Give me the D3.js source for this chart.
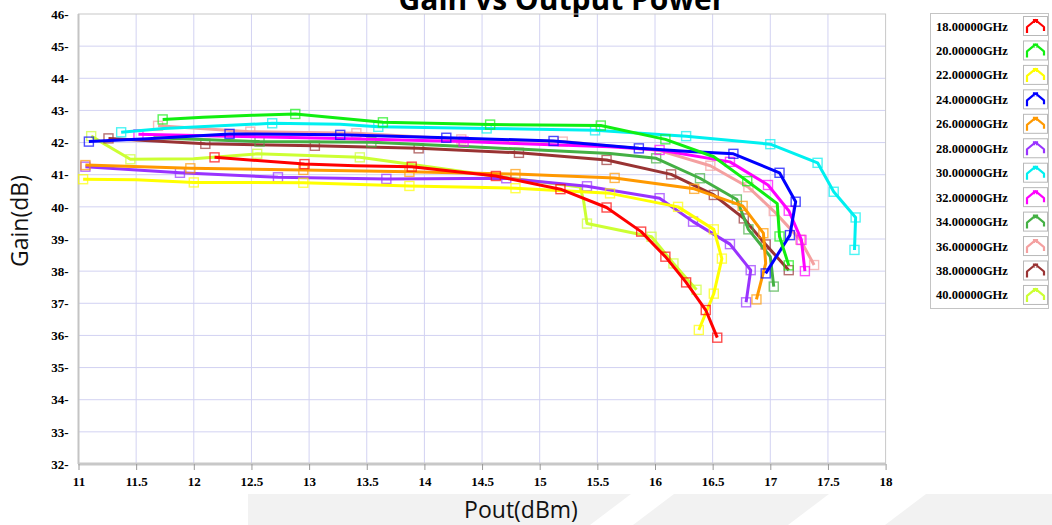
<!DOCTYPE html>
<html>
<head>
<meta charset="utf-8">
<script src="https://cdn.jsdelivr.net/npm/d3@7"></script>
<style>
  html, body { margin: 0; padding: 0; background: #fff; }
  svg { display: block; }
</style>
</head>
<body>
<svg id="chart" width="1052" height="525"></svg>
<script>
// ---------- data ----------
const seriesNames = ["18.00000GHz","20.00000GHz","22.00000GHz","24.00000GHz","26.00000GHz","28.00000GHz",
                     "30.00000GHz","32.00000GHz","34.00000GHz","36.00000GHz","38.00000GHz","40.00000GHz"];
const seriesColors = ["#ff0000","#11ee11","#ffff00","#0000ff","#ff9900","#9933ff",
                      "#00f0f0","#ff00ff","#44b044","#f4a0a0","#993333","#ccff33"];
const xTicks = [11, 11.5, 12, 12.5, 13, 13.5, 14, 14.5, 15, 15.5, 16, 16.5, 17, 17.5, 18];
const yTicks = [32, 33, 34, 35, 36, 37, 38, 39, 40, 41, 42, 43, 44, 45, 46];

// [Pout, Gain, hasMarker]
const s18 = [[12.18,41.54,1],[12.96,41.33,1],[13.4,41.28,0],[13.89,41.25,1],[14.62,40.96,1],[15.18,40.55,1],
             [15.58,39.98,1],[15.88,39.23,1],[16.09,38.45,1],[16.27,37.65,1],[16.44,36.79,1],[16.54,35.93,1]];
const s20 = [[11.73,42.72,1],[12.08,42.79,0],[12.51,42.85,0],[12.88,42.89,1],[13.64,42.63,1],[14.57,42.56,1],
             [15.53,42.53,1],[16.09,42.1,1],[16.51,41.56,0],[16.80,40.8,1],[17.06,40.1,0],[17.08,39.08,1],[17.16,38.18,1]];
const s22 = [[11.04,40.86,1],[11.5,40.84,0],[12.0,40.76,1],[12.95,40.75,1],[13.87,40.65,1],[14.79,40.58,1],
             [15.61,40.42,1],[16.2,40.0,1],[16.51,39.3,1],[16.58,38.39,1],[16.51,37.3,1],[16.38,36.17,1]];
const s24 = [[11.09,42.03,1],[11.6,42.12,0],[12.31,42.27,1],[13.27,42.24,1],[14.19,42.15,1],[15.12,42.05,1],
             [15.86,41.82,1],[16.3,41.72,0],[16.68,41.65,1],[17.08,41.06,1],[17.22,40.16,1],[17.17,39.12,1],[16.96,37.93,1]];
const s26 = [[11.06,41.30,1],[11.97,41.2,1],[12.95,41.15,1],[13.87,41.09,1],[14.79,41.02,1],[15.65,40.9,1],
             [16.34,40.56,1],[16.76,40.03,1],[16.94,39.18,1],[16.96,38.24,0],[16.88,37.12,1]];
const s28 = [[11.06,41.25,1],[11.88,41.06,1],[12.73,40.92,1],[13.67,40.87,1],[14.71,40.89,1],[15.41,40.64,1],
             [16.04,40.27,1],[16.33,39.54,1],[16.65,38.84,1],[16.83,38.03,1],[16.79,37.03,1]];
const s30 = [[11.37,42.32,1],[11.74,42.44,0],[12.68,42.6,1],[13.27,42.57,0],[13.6,42.49,1],[14.54,42.44,1],
             [15.48,42.38,1],[16.27,42.2,1],[17.0,41.95,1],[17.41,41.37,1],[17.55,40.47,1],[17.74,39.67,1],[17.73,38.66,1]];
const s32 = [[11.52,42.26,1],[12.31,42.2,0],[13.27,42.13,0],[14.34,42.03,1],[15.61,41.87,0],[16.04,41.77,1],
             [16.65,41.4,1],[16.98,40.68,1],[17.16,39.88,1],[17.27,38.97,1],[17.30,38.0,1]];
const s34 = [[11.65,42.15,0],[12.57,42.03,1],[13.54,42.01,1],[14.4,41.87,0],[15.61,41.66,0],[16.01,41.51,1],
             [16.39,40.89,1],[16.71,40.23,1],[16.81,39.3,1],[17.0,38.45,0],[17.03,37.52,1]];
const s36 = [[11.69,42.52,1],[12.49,42.34,1],[13.41,42.29,1],[14.32,42.1,1],[15.2,42.03,1],[16.04,41.75,0],
             [16.48,41.28,1],[16.81,40.61,1],[17.03,39.87,1],[17.26,38.98,1],[17.38,38.19,1]];
const s38 = [[11.26,42.13,1],[12.1,41.96,1],[13.05,41.9,1],[13.95,41.82,1],[14.82,41.68,1],[15.58,41.46,1],
             [16.14,41.01,1],[16.51,40.37,1],[16.77,39.64,1],[16.96,38.83,1],[17.16,38.03,1]];
const s40 = [[11.11,42.2,1],[11.45,41.48,1],[12.0,41.5,0],[12.55,41.65,1],[13.44,41.54,1],[14.1,41.22,0],
             [14.62,40.95,0],[15.35,40.62,0],[15.38,40.21,0],[15.41,39.48,1],[15.97,39.07,1],[16.16,38.24,1],[16.36,37.42,1]];
const seriesData = [s18, s20, s22, s24, s26, s28, s30, s32, s34, s36, s38, s40];

// ---------- layout ----------
const svg = d3.select("#chart");
const plot = { left: 78.5, right: 885.6, top: 14, bottom: 464 };
const x = d3.scaleLinear().domain([11, 18]).range([plot.left, plot.right]);
const y = d3.scaleLinear().domain([32, 46]).range([plot.bottom, plot.top]);

// watermark shapes in the background
const wm = [
  [[248,494],[631,494],[590,525],[248,525]],
  [[674,494],[829,494],[788,525],[633,525]],
  [[926,494],[1052,494],[1052,525],[885,525]]
];
svg.append("g").selectAll("polygon").data(wm).join("polygon")
  .attr("points", d => d.map(p => p.join(",")).join(" "))
  .attr("fill", "#f2f2f2");

// title
svg.append("text")
  .attr("x", 562).attr("y", 10)
  .attr("text-anchor", "middle")
  .attr("font-family", "'Open Sans', sans-serif")
  .attr("font-weight", "bold")
  .attr("font-size", 30)
  .attr("fill", "#000")
  .text("Gain vs Output Power");

// grid
const grid = svg.append("g");
grid.selectAll("line.vx").data(xTicks.slice(1, -1)).join("line")
  .attr("x1", d => x(d)).attr("x2", d => x(d))
  .attr("y1", plot.top).attr("y2", plot.bottom)
  .attr("stroke", "#d2d2f2").attr("stroke-width", 1);
grid.selectAll("line.hy").data(yTicks.slice(1, -1)).join("line")
  .attr("x1", plot.left).attr("x2", plot.right)
  .attr("y1", d => y(d)).attr("y2", d => y(d))
  .attr("stroke", "#d2d2f2").attr("stroke-width", 1);

// frame
svg.append("rect")
  .attr("x", plot.left).attr("y", plot.top)
  .attr("width", plot.right - plot.left).attr("height", plot.bottom - plot.top)
  .attr("fill", "none").attr("stroke", "#c8c8c8").attr("stroke-width", 1);
svg.append("line").attr("x1", plot.left).attr("x2", plot.left)
  .attr("y1", plot.top).attr("y2", plot.bottom)
  .attr("stroke", "#c4c4c4").attr("stroke-width", 2);
svg.append("line").attr("x1", plot.left).attr("x2", plot.right)
  .attr("y1", plot.bottom).attr("y2", plot.bottom)
  .attr("stroke", "#c8c8c8").attr("stroke-width", 3);

// axes
const tickFont = "'Liberation Serif', 'Times New Roman', serif";
const xAxis = svg.append("g")
  .attr("transform", `translate(0,${plot.bottom})`)
  .call(d3.axisBottom(x).tickValues(xTicks).tickFormat(d => String(d)).tickSize(6).tickPadding(7));
xAxis.select(".domain").remove();
xAxis.selectAll(".tick line").attr("stroke", "#999");
xAxis.selectAll("text").attr("font-family", tickFont).attr("font-weight", "bold")
  .attr("font-size", 13).attr("fill", "#000");

const yAxis = svg.append("g")
  .attr("transform", `translate(${plot.left},0)`)
  .call(d3.axisLeft(y).tickValues(yTicks).tickFormat(d => d + "-").tickSize(0).tickPadding(10));
yAxis.select(".domain").remove();
yAxis.selectAll("text").attr("font-family", tickFont).attr("font-weight", "bold")
  .attr("font-size", 13).attr("fill", "#000");

// axis titles
svg.append("text")
  .attr("transform", "translate(22,221) rotate(-90)")
  .attr("text-anchor", "middle").attr("dominant-baseline", "middle")
  .attr("font-family", "'Open Sans', sans-serif").attr("font-size", 23).attr("fill", "#111")
  .text("Gain(dB)");
svg.append("text")
  .attr("x", 521).attr("y", 512)
  .attr("text-anchor", "middle").attr("dominant-baseline", "middle")
  .attr("font-family", "'Open Sans', sans-serif").attr("font-size", 23).attr("fill", "#111")
  .text("Pout(dBm)");

// series
const line = d3.line().x(d => x(d[0])).y(d => y(d[1]));
const order = d3.range(seriesData.length).reverse();
const plotG = svg.append("g");
order.forEach(i => {
  const g = plotG.append("g");
  g.append("path").datum(seriesData[i])
    .attr("d", line)
    .attr("fill", "none")
    .attr("stroke", seriesColors[i])
    .attr("stroke-width", 3)
    .attr("stroke-linejoin", "round");
  g.selectAll("rect").data(seriesData[i].filter(d => d[2])).join("rect")
    .attr("x", d => x(d[0]) - 4.5).attr("y", d => y(d[1]) - 4.5)
    .attr("width", 9).attr("height", 9)
    .attr("fill", "none")
    .attr("stroke", seriesColors[i])
    .attr("stroke-opacity", 0.7)
    .attr("stroke-width", 1.4);
});

// legend
const lg = svg.append("g");
lg.append("rect").attr("x", 930.5).attr("y", 13.5).attr("width", 118).attr("height", 295)
  .attr("fill", "#fff").attr("stroke", "#c4c4c4");
const rowY = i => 26 + i * 24.45;
const items = lg.selectAll("g.item").data(seriesNames).join("g").attr("class", "item")
  .attr("transform", (d, i) => `translate(0,${rowY(i)})`);
items.append("text")
  .attr("x", 936).attr("y", 4.5)
  .attr("font-family", tickFont).attr("font-weight", "bold").attr("font-size", 12.5)
  .attr("fill", "#000")
  .text(d => d);
items.append("rect")
  .attr("x", 1023.5).attr("y", -9.5).attr("width", 24).attr("height", 19)
  .attr("fill", "#fff").attr("stroke", "#b8b8b8");
items.append("path")
  .attr("d", "M1027,7 L1027,1 L1035.5,-6 L1044,1 L1044,5 M1034,-7 L1034,-3 M1037,-7 L1037,-3")
  .attr("fill", "none")
  .attr("stroke", (d, i) => seriesColors[i])
  .attr("stroke-width", 2.2)
  .attr("stroke-linejoin", "round");
</script>
</body>
</html>
